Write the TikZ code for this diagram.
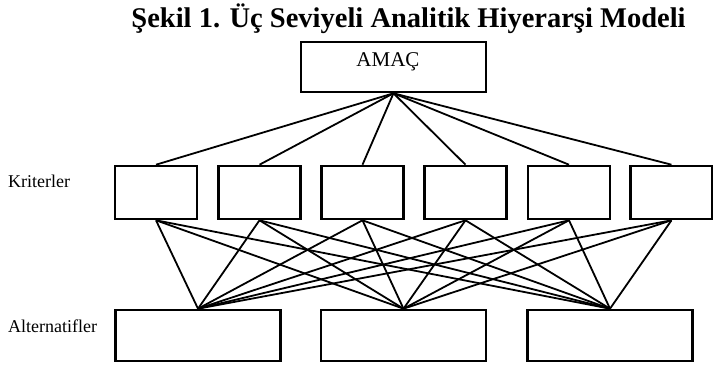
\documentclass[tikz,border=0pt]{standalone}
\usepackage{fontspec}
\setmainfont{Liberation Serif}
\begin{document}
\begin{tikzpicture}[x=1pt,y=-1pt,
  kbox/.style={draw=black,line width=2.1pt,fill=white,inner sep=0pt,minimum width=82pt,minimum height=53.5pt},
  abox/.style={draw=black,line width=2.1pt,fill=white,inner sep=0pt,minimum width=165pt,minimum height=51.5pt},
  goalbox/.style={draw=black,line width=2.1pt,fill=white,inner sep=0pt,minimum width=185pt,minimum height=50.5pt},
  link/.style={draw=black,line width=1.8pt},
  lvl/.style={anchor=base west,inner sep=0pt,font=\fontsize{18}{20}\selectfont}]
\fill[white] (0,0) rectangle (713,366);
\useasboundingbox (0,0) rectangle (713,366);
% title
\node[anchor=base,inner sep=0pt,font=\fontsize{28.5}{31}\selectfont\bfseries] (title) at (408.5,28) {Şekil 1. Üç Seviyeli Analitik Hiyerarşi Modeli};
% goal
\node[goalbox] (amac) at (393.5,67) {};
\node[anchor=base,inner sep=0pt,font=\fontsize{21}{23}\selectfont] (amactext) at (388,67) {AMAÇ};
% criteria
\node[kbox] (k1) at (156,192.5) {};
\node[kbox] (k2) at (259.5,192.5) {};
\node[kbox] (k3) at (362.5,192.5) {};
\node[kbox] (k4) at (465.5,192.5) {};
\node[kbox] (k5) at (569,192.5) {};
\node[kbox] (k6) at (671.5,192.5) {};
% alternatives
\node[abox] (a1) at (198,335.5) {};
\node[abox] (a2) at (403.5,335.5) {};
\node[abox] (a3) at (610,335.5) {};
% connectors
\foreach \k in {k1,k2,k3,k4,k5,k6}{
  \draw[link] (amac.south) -- (\k.north);
  \foreach \a in {a1,a2,a3}{
    \draw[link] (\k.south) -- (\a.north);
  }
}
% level labels
\node[lvl] (lk) at (8,188) {Kriterler};
\node[lvl] (la) at (8,333) {Alternatifler};
\end{tikzpicture}
\end{document}
